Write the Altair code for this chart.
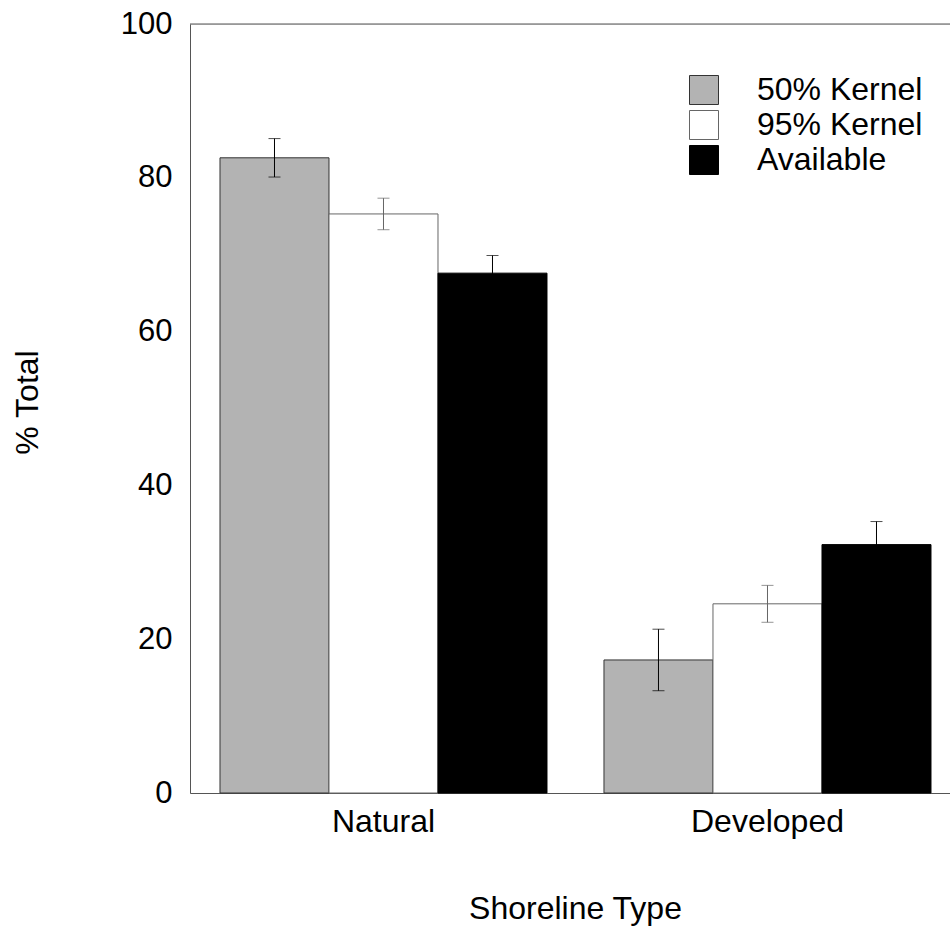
import altair as alt
import pandas as pd

categories = ["Natural", "Developed"]
series = ["50% Kernel", "95% Kernel", "Available"]
natural_vals = [82.6, 75.3, 67.6]
natural_err = [2.5, 2.05, 2.3]
developed_vals = [17.3, 24.6, 32.3]
developed_err = [4.0, 2.4, 3.0]
y_ticks = [0, 20, 40, 60, 80, 100]

rows = []
for cat, vals, errs in [(categories[0], natural_vals, natural_err),
                        (categories[1], developed_vals, developed_err)]:
    for s, v, e in zip(series, vals, errs):
        rows.append({"type": cat, "series": s, "value": v,
                     "lo": v - e, "hi": v + e})
df = pd.DataFrame(rows)

FONT = "Liberation Sans"
FS = 31
FS2 = 32
AXC = "#555555"

fill_colors = ["#b3b3b3", "#ffffff", "#000000"]
stroke_colors = ["#333333", "#666666", "#000000"]
err_colors = ["#000000", "#666666", "#000000"]

xenc = alt.X("type:N", sort=categories,
             scale=alt.Scale(paddingInner=0.1484, paddingOuter=0.0638, align=0.612),
             axis=alt.Axis(title="Shoreline Type", labelAngle=0, ticks=False,
                           labelFontSize=FS2, labelPadding=13, labelFont=FONT,
                           labelColor="black", domainColor=AXC,
                           titleFontSize=FS2, titleFont=FONT, titleFontWeight="normal",
                           titleColor="black", titleX=385, titleY=125,
                           titleBaseline="alphabetic"))
xoff = alt.XOffset("series:N", sort=series,
                   scale=alt.Scale(paddingInner=0, paddingOuter=0))
yscale = alt.Scale(domain=[0, 100], nice=False)
yenc = alt.Y("value:Q", scale=yscale,
             axis=alt.Axis(title="% Total", values=y_ticks, ticks=False, grid=False,
                           labelFontSize=FS, labelPadding=18, labelFont=FONT,
                           labelColor="black", domainColor=AXC,
                           titleFontSize=FS2, titleFont=FONT, titleFontWeight="normal",
                           titleColor="black", titleX=-153, titleY=378,
                           titleBaseline="alphabetic"))

legend = alt.Legend(title=None, orient="none", legendX=498, legendY=50,
                    symbolType="square", symbolSize=841, symbolStrokeWidth=1,
                    labelFontSize=FS2, labelFont=FONT, labelColor="black",
                    labelLimit=0, labelOffset=37, rowPadding=1, padding=0)

base = alt.Chart(df)

bars = base.mark_bar(strokeWidth=1).encode(
    x=xenc, xOffset=xoff, y=yenc,
    fill=alt.Fill("series:N", sort=series,
                  scale=alt.Scale(domain=series, range=fill_colors), legend=legend),
    stroke=alt.Stroke("series:N", sort=series,
                      scale=alt.Scale(domain=series, range=stroke_colors), legend=legend),
)

err_color = alt.Color("series:N", scale=alt.Scale(domain=series, range=err_colors),
                      legend=None)

err_rule = base.mark_rule(strokeWidth=1).encode(
    x=alt.X("type:N", sort=categories), xOffset=xoff,
    y=alt.Y("lo:Q", scale=yscale), y2="hi:Q",
    color=err_color,
)
cap_lo = base.mark_tick(size=12, thickness=1).encode(
    x=alt.X("type:N", sort=categories), xOffset=xoff,
    y=alt.Y("lo:Q", scale=yscale), color=err_color,
)
cap_hi = base.mark_tick(size=12, thickness=1).encode(
    x=alt.X("type:N", sort=categories), xOffset=xoff,
    y=alt.Y("hi:Q", scale=yscale), color=err_color,
)

top_line = alt.Chart(pd.DataFrame({"v": [100]})).mark_rule(color=AXC, strokeWidth=1).encode(
    y=alt.Y("v:Q", scale=yscale)
)

chart = alt.layer(bars, err_rule, cap_lo, cap_hi, top_line).properties(
    width=760, height=769, autosize="none",
    padding={"left": 190, "top": 24, "right": 0, "bottom": 138},
).configure_view(stroke=None).configure(font=FONT)

chart.save("out.html", embed_options={"renderer": "svg", "actions": False})
